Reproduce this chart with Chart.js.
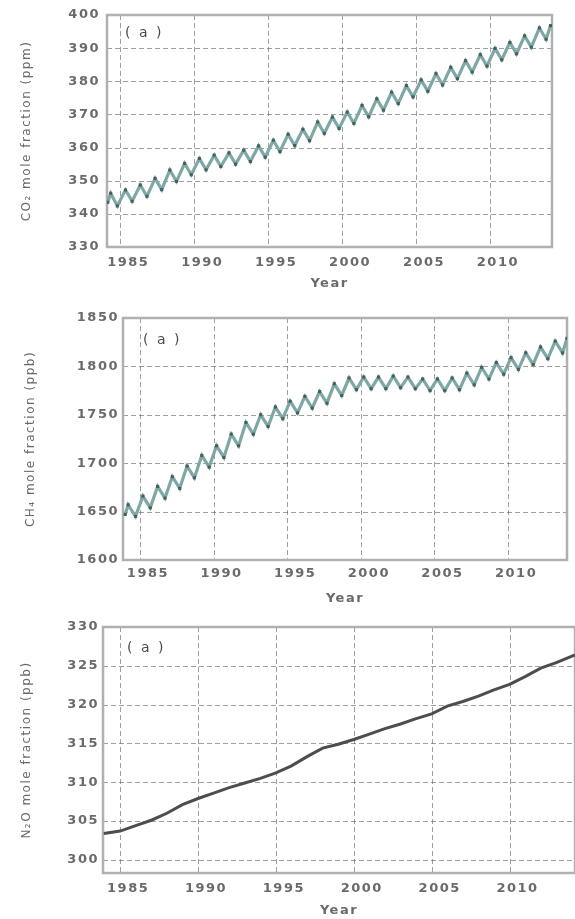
<!DOCTYPE html>
<html>
<head>
<meta charset="utf-8">
<title>Greenhouse gas mole fractions</title>
<script src="https://cdn.jsdelivr.net/npm/chart.js@4.4.0/dist/chart.umd.min.js"></script>
<style>
    html, body { margin: 0; padding: 0; background: #fff; }
    .panel { position: absolute; left: 0; width: 575px; }
    #p1 { top: 0; }
    #p2 { top: 300px; }
    #p3 { top: 610px; }
</style>
</head>
<body>
<div class="panel" id="p1"><canvas id="co2-chart" width="575" height="300"></canvas></div>
<div class="panel" id="p2"><canvas id="ch4-chart" width="575" height="310"></canvas></div>
<div class="panel" id="p3"><canvas id="n2o-chart" width="575" height="309"></canvas></div>
<script>
// ===== DATA =====
// CO2 (ppm): seasonal highs and lows read off panel 1
const co2Years = [
    1984.15, 1984.35, 1984.8, 1985.35, 1985.8, 1986.35, 1986.8, 1987.35, 1987.8,
    1988.35, 1988.8, 1989.35, 1989.8, 1990.35, 1990.8, 1991.35, 1991.8,
    1992.35, 1992.8, 1993.35, 1993.8, 1994.35, 1994.8, 1995.35, 1995.8,
    1996.35, 1996.8, 1997.35, 1997.8, 1998.35, 1998.8, 1999.35, 1999.8,
    2000.35, 2000.8, 2001.35, 2001.8, 2002.35, 2002.8, 2003.35, 2003.8,
    2004.35, 2004.8, 2005.35, 2005.8, 2006.35, 2006.8, 2007.35, 2007.8,
    2008.35, 2008.8, 2009.35, 2009.8, 2010.35, 2010.8, 2011.35, 2011.8,
    2012.35, 2012.8, 2013.35, 2013.8, 2014.1
];
const co2Values = [
    343.5, 346.2, 342.4, 347.2, 343.8, 348.7, 345.3, 350.7, 347.3,
    353.2, 349.8, 355.2, 351.8, 356.7, 353.3, 357.7, 354.3,
    358.4, 355.0, 359.2, 355.8, 360.5, 357.1, 362.2, 358.8,
    364.0, 360.6, 365.5, 362.1, 367.7, 364.3, 369.2, 365.8,
    370.7, 367.3, 372.7, 369.3, 374.7, 371.3, 376.7, 373.3,
    378.7, 375.3, 380.4, 377.0, 382.3, 378.9, 384.2, 380.8,
    386.2, 382.8, 388.0, 384.6, 389.9, 386.5, 391.7, 388.3,
    393.7, 390.3, 396.1, 392.7, 396.8
];

const ch4Years = [
    1984.0, 1984.2, 1984.7, 1985.2, 1985.7, 1986.2, 1986.7, 1987.2, 1987.7,
    1988.2, 1988.7, 1989.2, 1989.7, 1990.2, 1990.7, 1991.2, 1991.7,
    1992.2, 1992.7, 1993.2, 1993.7, 1994.2, 1994.7, 1995.2, 1995.7,
    1996.2, 1996.7, 1997.2, 1997.7, 1998.2, 1998.7, 1999.2, 1999.7,
    2000.2, 2000.7, 2001.2, 2001.7, 2002.2, 2002.7, 2003.2, 2003.7,
    2004.2, 2004.7, 2005.2, 2005.7, 2006.2, 2006.7, 2007.2, 2007.7,
    2008.2, 2008.7, 2009.2, 2009.7, 2010.2, 2010.7, 2011.2, 2011.7,
    2012.2, 2012.7, 2013.2, 2013.7, 2014.0
];
const ch4Values = [
    1647, 1657, 1645, 1666, 1654, 1676, 1664, 1686, 1674,
    1697, 1685, 1708, 1696, 1718, 1706, 1730, 1718,
    1742, 1730, 1750, 1738, 1758, 1746, 1764, 1752,
    1769, 1757, 1774, 1762, 1782, 1770, 1788, 1776,
    1789, 1777, 1789, 1777, 1790, 1778, 1789, 1777,
    1787, 1775, 1787, 1775, 1788, 1776, 1793, 1781,
    1799, 1787, 1804, 1792, 1809, 1797, 1814, 1802,
    1820, 1808, 1826, 1814, 1829
];

const n2oYears = [
    1983.95, 1985, 1986, 1987, 1988, 1989, 1990, 1991, 1992, 1993, 1994,
    1995, 1996, 1997, 1998, 1999, 2000, 2001, 2002, 2003, 2004,
    2005, 2006, 2007, 2008, 2009, 2010, 2011, 2012, 2013, 2014.2
];
const n2oValues = [
    303.4, 303.7, 304.4, 305.1, 306.0, 307.1, 307.9, 308.6, 309.3, 309.9, 310.5,
    311.2, 312.1, 313.3, 314.4, 314.9, 315.5, 316.2, 316.9, 317.5, 318.2,
    318.8, 319.8, 320.4, 321.1, 321.9, 322.6, 323.6, 324.7, 325.4, 326.4
];

const xTicks = [1985, 1990, 1995, 2000, 2005, 2010];
const co2Ticks = [330, 340, 350, 360, 370, 380, 390, 400];
const ch4Ticks = [1600, 1650, 1700, 1750, 1800, 1850];
const n2oTicks = [300, 305, 310, 315, 320, 325, 330];

const TEXT = '#6a6a6a';
const GRID = 'rgba(95, 95, 95, 0.6)';
const FONT = 'DejaVu Sans';

// рамка, пунктирная сетка, подпись "(a)" и разрядка текста
const framePlugin = {
    id: 'frame',
    beforeUpdate(chart) { chart.ctx.letterSpacing = '1.5px'; },
    beforeDraw(chart) { chart.ctx.letterSpacing = '1.5px'; },
    beforeDatasetsDraw(chart) {
        const { ctx, chartArea: a } = chart;
        const xs = chart.scales.x;
        const ys = chart.scales.y;
        ctx.save();
        ctx.strokeStyle = GRID;
        ctx.lineWidth = 1;
        ctx.setLineDash([5, 3]);
        xs.ticks.forEach(t => {
            const px = Math.round(xs.getPixelForValue(t.value)) + 0.5;
            ctx.beginPath();
            ctx.moveTo(px, a.top);
            ctx.lineTo(px, a.bottom);
            ctx.stroke();
        });
        ys.ticks.forEach(t => {
            const py = Math.round(ys.getPixelForValue(t.value)) + 0.5;
            ctx.beginPath();
            ctx.moveTo(a.left, py);
            ctx.lineTo(a.right, py);
            ctx.stroke();
        });
        ctx.setLineDash([]);
        ctx.strokeStyle = '#b0b0b0';
        ctx.lineWidth = 2.5;
        ctx.strokeRect(a.left, a.top, a.right - a.left, a.bottom - a.top);
        ctx.restore();
    },
    afterDraw(chart, args, opts) {
        const { ctx, chartArea: a } = chart;
        ctx.save();
        ctx.letterSpacing = '2px';
        ctx.fillStyle = '#4a4a4a';
        ctx.font = '14px "' + FONT + '"';
        ctx.textBaseline = 'middle';
        ctx.fillText('( a )', a.left + opts.dx, a.top + opts.dy);
        ctx.restore();
    }
};

const Panels = {

    charts: [],

    init() {
        this.create('co2-chart', {
            years: co2Years, values: co2Values, yTicks: co2Ticks,
            title: 'CO\u2082 mole fraction (ppm)',
            xMin: 1984.1, xMax: 2014.2, yMin: 330, yMax: 400,
            padding: { left: 14, right: 23, top: 15, bottom: 0 },
            yWidth: 93, yPad: 7, xHeight: 53, xPad: 8, titlePad: 9,
            color: '#7ea8a5', pointColor: '#46605e', lineWidth: 3.2, points: true,
            label: { dx: 18, dy: 18 }
        });
        this.create('ch4-chart', {
            years: ch4Years, values: ch4Values, yTicks: ch4Ticks,
            title: 'CH\u2084 mole fraction (ppb)',
            xMin: 1983.85, xMax: 2014.0, yMin: 1600, yMax: 1850,
            padding: { left: 18, right: 8, top: 18, bottom: 0 },
            yWidth: 105, yPad: 4, xHeight: 50, xPad: 6, titlePad: 4,
            color: '#7ea8a5', pointColor: '#46605e', lineWidth: 3.2, points: true,
            label: { dx: 20, dy: 22 }
        });
        this.create('n2o-chart', {
            years: n2oYears, values: n2oValues, yTicks: n2oTicks,
            title: 'N\u2082O mole fraction (ppb)',
            xMin: 1983.9, xMax: 2014.2, yMin: 298.3, yMax: 330,
            padding: { left: 14, right: 0, top: 17, bottom: 0 },
            yWidth: 89, yPad: 4, xHeight: 46, xPad: 8, titlePad: 1,
            color: '#4d4d4d', pointColor: '#4d4d4d', lineWidth: 3, points: false,
            label: { dx: 24, dy: 21 }
        });
    },

    create(id, p) {
        const ctx = document.getElementById(id);
        if (!ctx) return;

        const chart = new Chart(ctx, {
            type: 'line',
            data: {
                datasets: [{
                    data: p.years.map((x, i) => ({ x: x, y: p.values[i] })),
                    borderColor: p.color,
                    borderWidth: p.lineWidth,
                    pointStyle: 'rect',
                    pointRadius: p.points ? 2.2 : 0,
                    pointBackgroundColor: p.pointColor,
                    pointBorderWidth: 0,
                    tension: 0
                }]
            },
            options: {
                responsive: false,
                animation: false,
                layout: { padding: p.padding },
                plugins: {
                    legend: { display: false },
                    tooltip: { enabled: false },
                    frame: p.label
                },
                scales: {
                    x: {
                        type: 'linear',
                        min: p.xMin,
                        max: p.xMax,
                        afterFit(s) { s.height = p.xHeight; },
                        afterBuildTicks(s) { s.ticks = xTicks.map(v => ({ value: v })); },
                        ticks: {
                            padding: p.xPad,
                            labelOffset: 8,
                            color: TEXT,
                            font: { family: FONT, size: 13, weight: 'bold' },
                            maxRotation: 0,
                            callback: v => String(v)
                        },
                        grid: { display: false, drawTicks: false },
                        border: { display: false },
                        title: {
                            display: true,
                            text: 'Year',
                            color: TEXT,
                            font: { family: FONT, size: 13, weight: 'bold' },
                            padding: { top: 0, bottom: p.titlePad }
                        }
                    },
                    y: {
                        min: p.yMin,
                        max: p.yMax,
                        afterFit(s) { s.width = p.yWidth; },
                        afterBuildTicks(s) { s.ticks = p.yTicks.map(v => ({ value: v })); },
                        ticks: {
                            padding: p.yPad,
                            color: TEXT,
                            font: { family: FONT, size: 13, weight: 'bold' },
                            callback: v => String(v)
                        },
                        grid: { display: false, drawTicks: false },
                        border: { display: false },
                        title: {
                            display: true,
                            text: p.title,
                            color: '#6a6a6a',
                            font: { family: FONT, size: 12 },
                            padding: { top: 6, bottom: 0 }
                        }
                    }
                }
            },
            plugins: [framePlugin]
        });
        this.charts.push(chart);
    }
};

Panels.init();
</script>
</body>
</html>
